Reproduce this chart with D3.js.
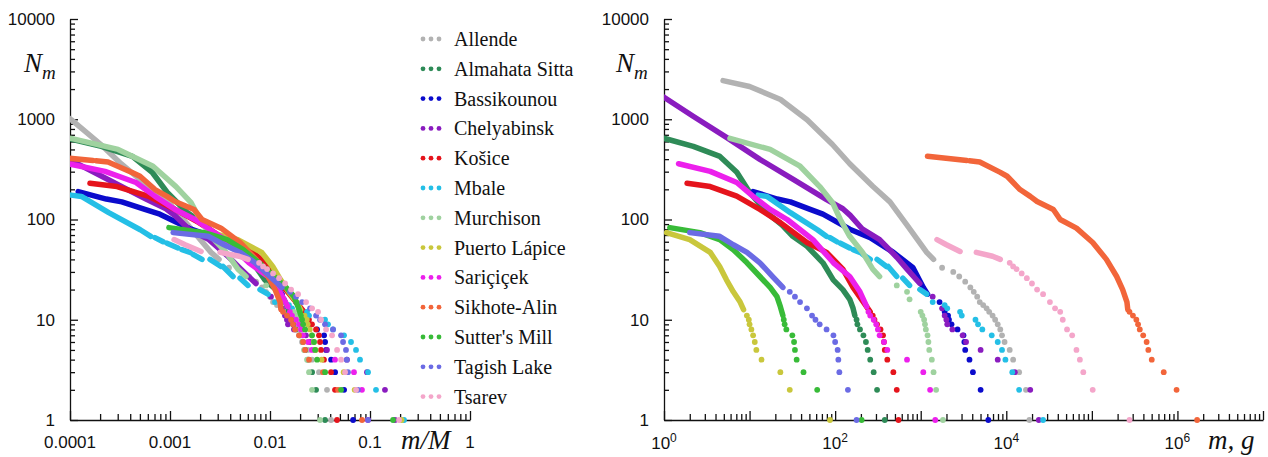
<!DOCTYPE html>
<html>
<head>
<meta charset="utf-8">
<script src="https://cdn.jsdelivr.net/npm/d3@7"></script>
<style>
  body { margin: 0; background: #fff; }
  svg { display: block; }
</style>
</head>
<body>
<script>
// meteorite showers, legend order
var names = ["Allende", "Almahata Sitta", "Bassikounou", "Chelyabinsk", "Košice", "Mbale", "Murchison",
             "Puerto Lápice", "Sariçiçek", "Sikhote-Alin", "Sutter's Mill", "Tagish Lake", "Tsarev"];
var colors = ["#b2b2b2", "#2e8b57", "#0b0bcc", "#8a1cbf", "#e5141c", "#24bfe6", "#9fd29f",
              "#c9c73c", "#ec20ec", "#f2653a", "#38bb38", "#6b6be4", "#f4a6ca"];
// total mass M (g) used for m/M
var totalMass = [457000, 10700, 91000, 135000, 11750, 123000, 57500, 420, 15500, 20400000, 1200, 1860, 1410000];

// [m (g), N_m] ; dense part (drawn as thick trace, null = gap) and sparse tail dots
var allendeLine = [[4.9,2430],[10,2120],[23,1575],[47,990],[93,560],[148,360],[275,215],[437,150],[692,88],[1175,47],[1413,40]];
var allendeDots = [[1778,33],[2399,30],[2818,27],[3311,24],[3802,21],[4169,19],[4571,17],[4898,15],[5370,14],[5888,13],[6310,12],[6918,11],[7413,10],[7943,9],[8511,8],[8913,7],[9550,6],[10965,5],[12023,4],[14125,3],[16982,2],[18621,1]];

var almahataLine = [[1,646],[2.2,537],[4.5,426],[7.1,296],[10,187],[15.8,118],[24,88],[32,68],[47,54],[72,37],[95,25],[123,20],[148,16],[162,13],[170,11]];
var almahataDots = [[178,10],[182,9],[195,8],[214,7],[229,6],[240,5],[257,4],[282,3],[309,2],[380,1]];

var bassikounouLine = [[11,190],[21,160],[30,150],[51,126],[72,113],[148,80],[257,66],[479,47],[813,33],[1072,21],[1202,18]];
var bassikounouDots = [[1660,15],[1905,12],[2089,11],[2138,10],[2291,9],[2692,8],[3162,7],[3236,6],[3311,5],[3715,4],[4074,3],[5012,2],[6166,1]];

var chelyabinskLine = [[1,1660],[2.19,1070],[5.37,660],[13.2,398],[32.4,251],[79.4,158],[123,128],[150,110],[209,80],[331,63],[525,42],[692,32],[977,23]];
var chelyabinskDots = [[1380,17],[1778,13],[1905,11],[1995,10],[2042,9],[2344,8],[3090,7],[3388,6],[5012,5],[7943,4],[12590,3],[19055,2],[23988,1]];

var kosiceLine = [[1.86,230],[3.47,213],[7.08,171],[13.2,126],[22.9,93],[46.8,59],[79.4,47],[123,32],[162,21],[214,15],[257,12]];
var kosiceDots = [[275,11],[288,10],[309,9],[339,8],[363,7],[372,6],[380,5],[407,4],[479,3],[525,2],[550,1]];

var mbaleLine = [[12.6,175],[16,170],[30,117],[62,79],[79,68],null,[87,66],[105,60],null,[115,58],[148,52],null,[162,50],[195,47],null,
                 [209,45],[257,40],null,[309,40],[398,34],null,[417,34],[525,27],null,[617,26],[741,22],null,[977,20],[1175,18]];
var mbaleDots = [[1380,15],[1905,14],[2042,13],[2884,12],[3020,11],[4365,10],[4677,9],[5248,8],[6761,7],[7943,6],[8913,5],[9772,4],[11750,3],[14125,2],[26915,1]];

var murchisonLine = [[5.9,645],[17.4,500],[38.9,340],[66,213],[93,148],[115,100],[148,68],[209,47],[275,32],[331,27]];
var murchisonDots = [[525,22],[692,19],[741,16],[1000,12],[1047,11],[1096,10],[1122,9],[1148,8],[1202,7],[1230,6],[1259,5],[1349,4],[1413,3],[1514,2],[1820,1]];

var puertoLine = [[1.07,74],[2.0,63],[3.47,47],[4.47,34],[5.37,25],[6.46,19],[7.76,15],[8.51,12.6]];
var puertoDots = [[9.3,11],[9.8,10],[10,9],[10.5,8],[11,7],[11.5,6],[12,5],[13.8,4],[22.9,3],[29.5,2],[87,1]];

var saricicekLine = [[1.48,360],[3.47,302],[7.08,234],[11,170],[17.4,126],[27.5,100],[55,63],[95.5,37],[148,27],[195,19],[234,13.5]];
var saricicekDots = [[245,12],[257,11],[282,10],[302,9],[316,8],[331,7],[372,6],[407,5],[692,4],[1072,3],[1288,2],[1479,1]];

var sikhoteLine = [[1200,427],[3467,388],null,[3715,386],[4898,375],[8511,295],[10230,270],[14454,199],[19055,170],[22909,151],[35481,126],
                   [42658,100],[66069,82],[102329,59],[147911,40],[194984,27],[229087,20],[257040,15],[263000,12.6]];
var sikhoteDots = [[275423,12],[301995,11],[331131,10],[346737,9],[363078,8],[398107,7],[436516,6],[457088,5],[501187,4],[691831,3],[977237,2],[1698244,1]];

var sutterLine = [[1.17,83],[2.63,74],[4.47,63],[6.46,50],[9.33,37],[13.2,27],[17.4,21],[20.9,17],[22.9,13.5],[24.5,11]];
var sutterDots = [[25.1,10],[25.7,9],[26.9,8],[31.6,7],[33.1,6],[33.9,5],[35.5,4],[42.7,3],[61.7,2],[204,1]];

var tagishLine = [[2.0,74],[4.47,68],[6.46,56],[9.33,47],[13.2,37],[18.6,27],[24.5,21]];
var tagishDots = [[29.5,19],[33.9,17],[38.9,15],[46.8,13],[53.7,11],[58.9,10],[66,9],[79.4,8],[95.5,7],[100,6],[107,5],[109,4],[112,3],[141,2],[178,1]];

var tsarevLine = [[1549,63],[2000,56],[2884,48],null,[4467,47],[6918,43],[8511,40]];
var tsarevDots = [[10965,37],[12023,34],[13183,32],[15136,29],[17378,26],[19953,23],[22909,20],[26915,18],[32359,15],[37154,13],[42658,12],
                  [45709,10],[51286,8],[58884,7],[66069,5],[72444,4],[79433,3],[102329,2],[275423,1]];

var yTicks = [1, 10, 100, 1000, 10000];
var xTicksLeft = [0.0001, 0.001, 0.01, 0.1, 1];
var xLabelsLeft = ["0.0001", "0.001", "0.01", "0.1", "1"];
var xTicksRight = [1, 100, 10000, 1000000];
var xExpRight = ["0", "2", "4", "6"];

var traces = [allendeLine, almahataLine, bassikounouLine, chelyabinskLine, kosiceLine, mbaleLine, murchisonLine,
              puertoLine, saricicekLine, sikhoteLine, sutterLine, tagishLine, tsarevLine];
var tails = [allendeDots, almahataDots, bassikounouDots, chelyabinskDots, kosiceDots, mbaleDots, murchisonDots,
             puertoDots, saricicekDots, sikhoteDots, sutterDots, tagishDots, tsarevDots];

var sans = "'Liberation Sans', Arial, sans-serif";
var serif = "'Liberation Serif', 'Times New Roman', serif";

var svg = d3.select("body").append("svg").attr("width", 1268).attr("height", 457);

var y = d3.scaleLog().domain([1, 10000]).range([420, 19]);
var xL = d3.scaleLog().domain([0.0001, 1]).range([70, 470]);
var xR = d3.scaleLog().domain([1, 1e7]).range([664, 1263]);

function minors(lo, hi) {
  var out = [];
  for (var e = lo; e < hi; e++) for (var k = 2; k < 10; k++) out.push(k * Math.pow(10, e));
  return out;
}
function decades(lo, hi) {
  var out = [];
  for (var e = lo; e <= hi; e++) out.push(Math.pow(10, e));
  return out;
}

function styleAxis(g) {
  g.selectAll("path, line").attr("stroke", "#111").attr("stroke-width", 1.3);
  g.selectAll("text").attr("font-family", sans).attr("font-size", 17).attr("fill", "#111");
}

function panel(x, x0, xMinLo, xMinHi, scaleM, id) {
  // y axis
  svg.append("g").attr("transform", "translate(" + x0 + ",0)")
    .call(d3.axisLeft(y).tickValues(minors(0, 4)).tickFormat("").tickSizeInner(-5).tickSizeOuter(0))
    .call(function (g) { g.select(".domain").remove(); })
    .call(styleAxis);
  svg.append("g").attr("transform", "translate(" + x0 + ",0)")
    .call(d3.axisLeft(y).tickValues(yTicks).tickFormat(d3.format("d")).tickSizeInner(-8).tickSizeOuter(0).tickPadding(15))
    .call(styleAxis);
  // x axis
  svg.append("g").attr("transform", "translate(0,420)")
    .call(d3.axisBottom(x).tickValues(minors(xMinLo, xMinHi)).tickFormat("").tickSizeInner(-6).tickSizeOuter(0))
    .call(function (g) { g.select(".domain").remove(); })
    .call(styleAxis);
  svg.append("g").attr("transform", "translate(0,420)")
    .call(d3.axisBottom(x).tickValues(decades(xMinLo, xMinHi)).tickFormat("").tickSizeInner(-9).tickSizeOuter(0))
    .call(styleAxis);

  svg.append("clipPath").attr("id", id)
    .append("rect").attr("x", x0).attr("y", 0).attr("width", 1268 - x0).attr("height", 430);

  var g = svg.append("g").attr("clip-path", "url(#" + id + ")");
  traces.forEach(function (pts, i) {
    var M = scaleM(i);
    var ln = d3.line()
      .defined(function (d) { return d !== null; })
      .x(function (d) { return x(d[0] / M); })
      .y(function (d) { return y(d[1]); });
    g.append("path").datum(pts)
      .attr("d", ln)
      .attr("fill", "none")
      .attr("stroke", colors[i])
      .attr("stroke-width", 5.5)
      .attr("stroke-linecap", "round")
      .attr("stroke-linejoin", "round");
    g.selectAll(null).data(tails[i]).enter().append("circle")
      .attr("cx", function (d) { return x(d[0] / M); })
      .attr("cy", function (d) { return y(d[1]); })
      .attr("r", 2.9)
      .attr("fill", colors[i]);
  });
}

// left: normalised mass m/M
panel(xL, 70, -4, 0, function (i) { return totalMass[i]; }, "clipL");
svg.append("g").selectAll("text").data(xTicksLeft).enter().append("text")
  .attr("x", function (d) { return xL(d); })
  .attr("y", 448)
  .attr("text-anchor", "middle")
  .attr("font-family", sans).attr("font-size", 17).attr("fill", "#111")
  .text(function (d, i) { return xLabelsLeft[i]; });

// right: mass in grams
panel(xR, 664, 0, 7, function () { return 1; }, "clipR");
var rl = svg.append("g").selectAll("text").data(xTicksRight).enter().append("text")
  .attr("x", function (d) { return xR(d); })
  .attr("y", 449)
  .attr("text-anchor", "middle")
  .attr("font-family", sans).attr("font-size", 17).attr("fill", "#111");
rl.append("tspan").text("10");
rl.append("tspan").attr("dy", -7).attr("font-size", 12).text(function (d, i) { return xExpRight[i]; });

// axis titles
function nTitle(xpos) {
  var t = svg.append("text").attr("x", xpos).attr("y", 72)
    .attr("font-family", serif).attr("font-style", "italic").attr("font-size", 27).attr("fill", "#111");
  t.append("tspan").text("N");
  t.append("tspan").attr("dy", 7).attr("font-size", 19).text("m");
}
nTitle(24);
nTitle(616);
svg.append("text").attr("x", 401).attr("y", 449)
  .attr("font-family", serif).attr("font-style", "italic").attr("font-size", 27).attr("fill", "#111")
  .text("m/M");
svg.append("text").attr("x", 1208).attr("y", 449)
  .attr("font-family", serif).attr("font-style", "italic").attr("font-size", 27).attr("fill", "#111")
  .text("m, g");

// legend
var lg = svg.append("g").selectAll("g").data(names).enter().append("g")
  .attr("transform", function (d, i) { return "translate(0," + (46 + i * 29.8) + ")"; });
[423, 431, 439].forEach(function (cx) {
  lg.append("circle").attr("cx", cx).attr("cy", -7).attr("r", 2.4)
    .attr("fill", function (d, i) { return colors[i]; });
});
lg.append("text").attr("x", 454).attr("y", 0)
  .attr("font-family", serif).attr("font-size", 20).attr("fill", "#111")
  .text(function (d) { return d; });
</script>
</body>
</html>
